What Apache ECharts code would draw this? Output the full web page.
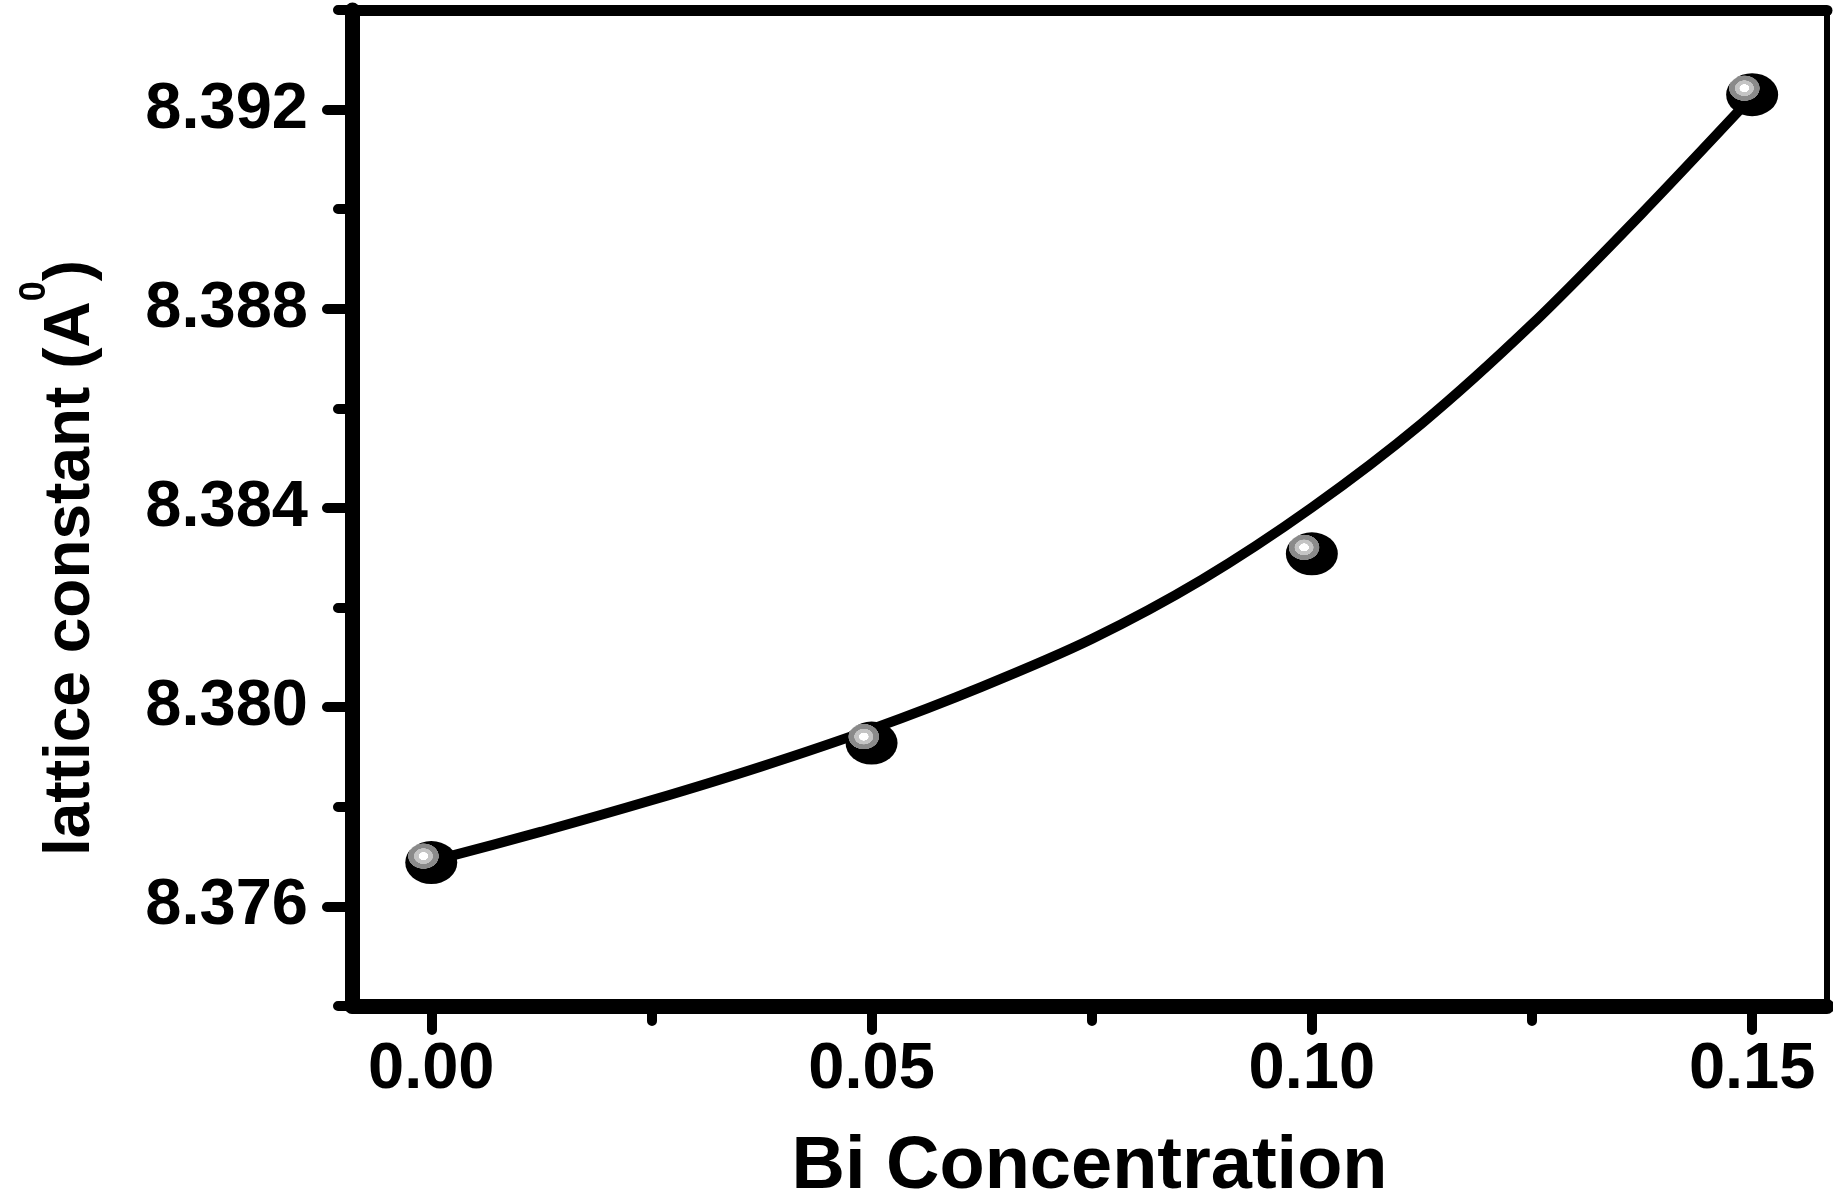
<!DOCTYPE html>
<html>
<head>
<meta charset="utf-8">
<title>lattice constant vs Bi concentration</title>
<script src="https://cdn.jsdelivr.net/npm/echarts@6/dist/echarts.min.js"></script>
<style>
  html, body { margin: 0; padding: 0; background: #fff; }
  #chart { width: 1833px; height: 1194px; }
</style>
</head>
<body>
<div id="chart"></div>
<script>
// measured points
var concentration = [0.00, 0.05, 0.10, 0.15];
var latticeConstant = [8.37688, 8.37928, 8.38308, 8.3923];

// fitted curve
var fitX = [0.00, 0.0125, 0.025, 0.0375, 0.05, 0.0625, 0.075, 0.0875, 0.10, 0.1125, 0.125, 0.1375, 0.15];
var fitY = [8.37691, 8.37750, 8.37813, 8.37881, 8.37956, 8.38041, 8.38137, 8.38256, 8.38401, 8.38570, 8.38769, 8.38992, 8.39226];

// ticks
var xMajorTicks = [0.00, 0.05, 0.10, 0.15];
var xMinorTicks = [0.025, 0.075, 0.125];
var yMajorTicks = [8.376, 8.380, 8.384, 8.388, 8.392];

var font = 'Liberation Sans, Arial, sans-serif';

var myChart = echarts.init(document.getElementById('chart'));

// 小球的高光
var ballColor = new echarts.graphic.RadialGradient(0.35, 0.35, 0.3, [
    { offset: 0, color: '#ffffff' },
    { offset: 0.3, color: '#ffffff' },
    { offset: 0.32, color: '#c4c4c4' },
    { offset: 0.6, color: '#c4c4c4' },
    { offset: 0.62, color: '#8a8a8a' },
    { offset: 0.97, color: '#8a8a8a' },
    { offset: 1, color: '#000000' }
]);

var option = {
    animation: false,
    backgroundColor: '#fff',
    grid: {
        left: 352,
        right: 6,
        top: 10,
        bottom: 188,
        outerBoundsMode: 'none'
    },
    xAxis: [
        {
            type: 'value',
            position: 'bottom',
            min: -0.009,
            max: 0.1585,
            splitLine: { show: false },
            axisLine: { onZero: false, lineStyle: { color: '#000', width: 15 } },
            axisTick: {
                customValues: xMajorTicks,
                length: 24,
                lineStyle: { color: '#000', width: 10, cap: 'round' }
            },
            axisLabel: {
                customValues: xMajorTicks,
                margin: 32,
                color: '#000',
                fontSize: 65,
                fontWeight: 'bold',
                fontFamily: font,
                formatter: function (v) { return v.toFixed(2); }
            },
            name: 'Bi Concentration',
            nameLocation: 'middle',
            nameGap: 125,
            nameMoveOverlap: false,
            nameTextStyle: {
                color: '#000',
                fontSize: 74,
                fontWeight: 'bold',
                fontFamily: font
            }
        },
        {
            // 短刻度
            type: 'value',
            position: 'bottom',
            min: -0.009,
            max: 0.1585,
            splitLine: { show: false },
            axisLine: { show: false, onZero: false },
            axisTick: {
                customValues: xMinorTicks,
                length: 15,
                lineStyle: { color: '#000', width: 10, cap: 'round' }
            },
            axisLabel: { show: false }
        },
        {
            // 上边框
            type: 'value',
            position: 'top',
            min: -0.009,
            max: 0.1585,
            splitLine: { show: false },
            axisLine: { onZero: false, lineStyle: { color: '#000', width: 11 } },
            axisTick: { show: false },
            axisLabel: { show: false }
        }
    ],
    yAxis: [
        {
            type: 'value',
            position: 'left',
            min: 8.374,
            max: 8.394,
            interval: 0.002,
            splitLine: { show: false },
            axisLine: { onZero: false, lineStyle: { color: '#000', width: 15 } },
            axisTick: {
                length: 14,
                lineStyle: { color: '#000', width: 10, cap: 'round' }
            },
            axisLabel: {
                margin: 44,
                color: '#000',
                fontSize: 65,
                fontWeight: 'bold',
                fontFamily: font,
                formatter: function (v) {
                    return Math.round(v * 1000) % 4 === 0 ? v.toFixed(3) : '';
                }
            },
            name: '{t|lattice constant (A}{s|0}{t|)}',
            nameLocation: 'middle',
            nameRotate: 90,
            nameGap: 227,
            nameMoveOverlap: false,
            nameTextStyle: {
                color: '#000',
                fontWeight: 'bold',
                fontFamily: font,
                padding: [0, 100, 0, 0],
                rich: {
                    t: { fontSize: 64, fontWeight: 'bold', fontFamily: font, color: '#000' },
                    s: { fontSize: 36, fontWeight: 'bold', fontFamily: font, color: '#000', padding: [0, 0, 72, 0] }
                }
            }
        },
        {
            // 长刻度
            type: 'value',
            position: 'left',
            min: 8.374,
            max: 8.394,
            splitLine: { show: false },
            axisLine: { show: false, onZero: false },
            axisTick: {
                customValues: yMajorTicks,
                length: 25,
                lineStyle: { color: '#000', width: 10, cap: 'round' }
            },
            axisLabel: { show: false }
        },
        {
            // 右边框
            type: 'value',
            position: 'right',
            min: 8.374,
            max: 8.394,
            splitLine: { show: false },
            axisLine: { onZero: false, lineStyle: { color: '#000', width: 6 } },
            axisTick: { show: false },
            axisLabel: { show: false }
        }
    ],
    series: [
        {
            name: 'fit',
            type: 'line',
            smooth: 0.3,
            showSymbol: false,
            lineStyle: { color: '#000', width: 10 },
            data: fitX.map(function (x, i) { return [x, fitY[i]]; }),
            z: 2
        },
        {
            name: 'lattice constant',
            type: 'scatter',
            symbol: 'circle',
            symbolSize: [52, 43],
            itemStyle: { color: ballColor, opacity: 1 },
            data: concentration.map(function (x, i) { return [x, latticeConstant[i]]; }),
            z: 3
        }
    ]
};

myChart.setOption(option);
</script>
</body>
</html>
